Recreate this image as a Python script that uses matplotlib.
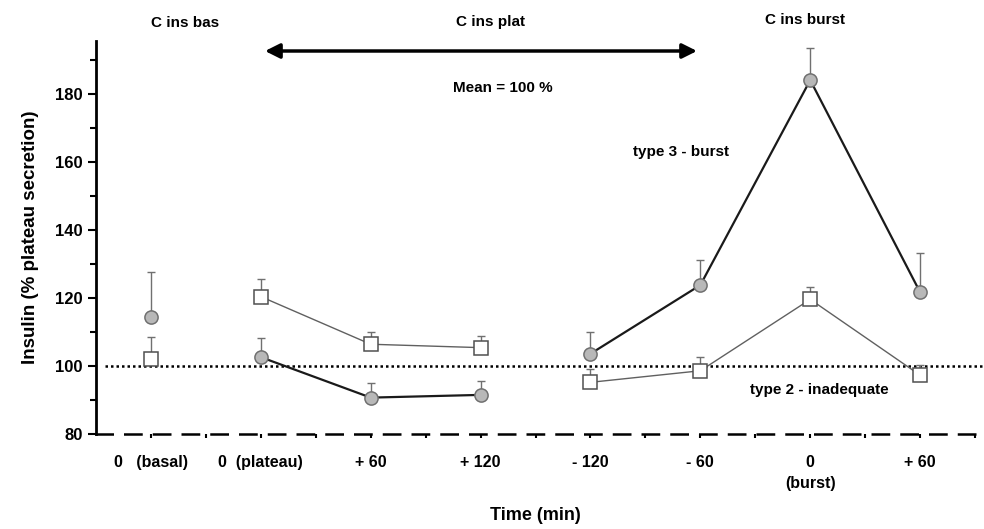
import matplotlib.pyplot as plt
import numpy as np

plt.rcParams['font.family'] = ['Liberation Sans', 'DejaVu Sans']
plt.rcParams['font.weight'] = 'bold'

# x positions (categories) and labels
x_labels = ['0   (basal)', '0  (plateau)', '+ 60', '+ 120', '- 120', '- 60', '0\n(burst)', '+ 60']
x_pos = np.arange(1, 9)

# type 3 - burst (grey circles)
burst_mean = [114.4, 102.6, 90.7, 91.5, 103.6, 123.8, 184.1, 121.7]
burst_err = [13.3, 5.5, 4.4, 4.2, 6.3, 7.4, 9.3, 11.5]

# type 2 - inadequate (open squares)
inad_mean = [102.0, 120.4, 106.4, 105.4, 95.2, 98.6, 119.6, 97.3]
inad_err = [6.4, 5.1, 3.6, 3.5, 3.9, 4.0, 3.5, 3.0]

# which points are joined by lines
segments = [[1, 2, 3], [4, 5, 6, 7]]

fig = plt.figure(figsize=(9.84, 5.29), dpi=100)
ax = fig.add_axes([0.0976, 0.1796, 0.8933, 0.7429])

# error bars (upper only)
ax.errorbar(x_pos, burst_mean, yerr=[np.zeros(8), burst_err], fmt='none',
            ecolor='#707070', elinewidth=1, capsize=3, capthick=1, zorder=2)
ax.errorbar(x_pos, inad_mean, yerr=[np.zeros(8), inad_err], fmt='none',
            ecolor='#707070', elinewidth=1, capsize=3, capthick=1, zorder=2)

for seg in segments:
    xs = x_pos[seg]
    ax.plot(xs, np.array(inad_mean)[seg], color='#606060', lw=1, zorder=3)
    ax.plot(xs, np.array(burst_mean)[seg], color='#1a1a1a', lw=1.6, zorder=3)

ax.plot(x_pos, inad_mean, 's', ms=10, mfc='white', mec='#505050', mew=1.1, zorder=4)
ax.plot(x_pos, burst_mean, 'o', ms=9.5, mfc='#b8b8b8', mec='#707070', mew=1.1, zorder=5)

# mean reference line
ax.axhline(100, xmin=0.01, xmax=1.01, color='black', lw=1.8, ls=(0, (1, 1.2)),
           zorder=1, clip_on=False)

ax.set_xlim(0.5, 8.5)
ax.set_ylim(80, 195.6)
ax.set_xticks(x_pos)
ax.set_xticklabels(x_labels, fontsize=11.5, fontweight='bold', va='top', linespacing=1.5)
ax.set_xticks(np.arange(1.5, 8.6, 1), minor=True)
ax.set_yticks(np.arange(80, 181, 20))
ax.set_yticks(np.arange(90, 191, 20), minor=True)
ax.tick_params(axis='y', which='both', direction='out', labelsize=12, width=1.5, length=6)
ax.tick_params(axis='y', which='minor', length=4)
ax.tick_params(axis='x', which='both', direction='out', width=1.5, length=3, pad=12)
for lab in ax.get_yticklabels():
    lab.set_fontweight('bold')

for s in ['top', 'right']:
    ax.spines[s].set_visible(False)
ax.spines['left'].set_linewidth(2)
ax.spines['bottom'].set_linewidth(1.8)
ax.spines['bottom'].set_linestyle((0, (6.5, 5)))

ax.set_ylabel('Insulin (% plateau secretion)', fontsize=13.5, fontweight='bold', labelpad=12)
ax.set_xlabel('Time (min)', fontsize=13, fontweight='bold', labelpad=12)

# annotations
fig.text(185 / 984, 1 - 23 / 529, 'C ins bas', ha='center', va='center', fontsize=11)
fig.text(490 / 984, 1 - 22 / 529, 'C ins plat', ha='center', va='center', fontsize=11)
fig.text(805 / 984, 1 - 20 / 529, 'C ins burst', ha='center', va='center', fontsize=11)
fig.text(503 / 984, 1 - 88 / 529, 'Mean = 100 %', ha='center', va='center', fontsize=11)
ax.annotate('', xy=(265 / 984, 1 - 51 / 529), xytext=(697 / 984, 1 - 51 / 529),
            xycoords='figure fraction', textcoords='figure fraction',
            arrowprops=dict(arrowstyle='<|-|>', color='black', lw=2.5,
                            mutation_scale=22, shrinkA=0, shrinkB=0))
fig.text(681 / 984, 1 - 152 / 529, 'type 3 - burst', ha='center', va='center', fontsize=11)
fig.text(819 / 984, 1 - 390 / 529, 'type 2 - inadequate', ha='center', va='center', fontsize=11)

fig.savefig('out.png', dpi=100)
